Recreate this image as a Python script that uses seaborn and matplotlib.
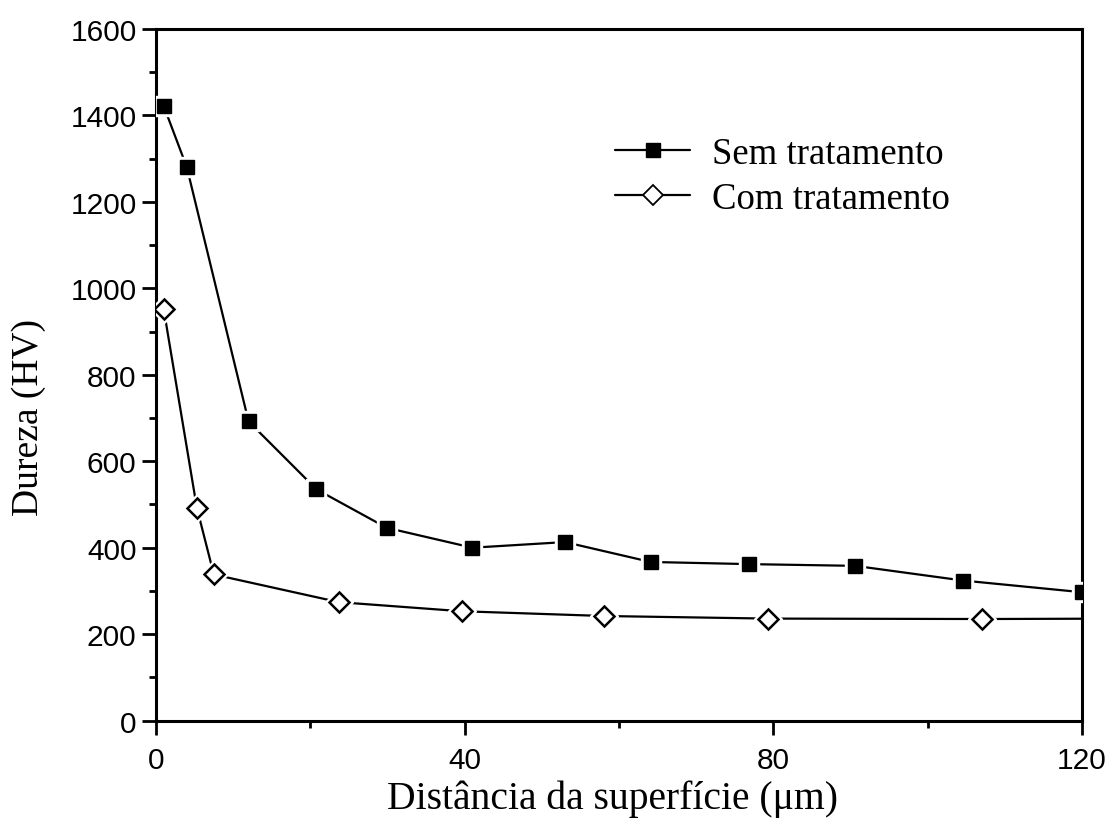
import matplotlib
matplotlib.use("Agg")
import matplotlib.pyplot as plt
from matplotlib.lines import Line2D
from matplotlib.ticker import MultipleLocator
import seaborn as sns
import pandas as pd

# Hardness profiles (HV) versus distance from the surface (µm)
dist_sem = [1.0, 4.0, 12.0, 20.8, 29.9, 41.0, 53.0, 64.1, 76.9, 90.6, 104.6, 120.0]
hv_sem = [1422, 1280, 692, 535, 446, 400, 413, 367, 362, 358, 324, 297]

dist_com = [1.0, 5.3, 7.5, 23.7, 39.6, 58.0, 79.3, 107.1, 126.0]
hv_com = [952, 492, 338, 274, 253, 242, 236, 235, 236]

label_sem = "Sem tratamento"
label_com = "Com tratamento"

df_sem = pd.DataFrame({"x": dist_sem, "y": hv_sem})
df_com = pd.DataFrame({"x": dist_com, "y": hv_com})

sns.set_style("ticks")
plt.rcParams["font.family"] = ["Liberation Sans", "DejaVu Sans"]
plt.rcParams["text.color"] = "black"
plt.rcParams["axes.labelcolor"] = "black"

fig = plt.figure(figsize=(11.07, 8.28), dpi=100)
ax = fig.add_axes([0.1409, 0.1285, 0.8365, 0.8353])

lw = 1.6
ms_sq = 10
ms_di = 10.5

# connecting lines
sns.lineplot(data=df_sem, x="x", y="y", ax=ax, color="black", lw=lw,
             sort=False, estimator=None)
sns.lineplot(data=df_com, x="x", y="y", ax=ax, color="black", lw=lw,
             sort=False, estimator=None)

# markers with a small white gap separating them from the lines
ax.plot(dist_sem, hv_sem, ls="none", marker="s", ms=ms_sq + 4,
        mfc="white", mec="white", zorder=3)
ax.plot(dist_sem, hv_sem, ls="none", marker="s", ms=ms_sq,
        mfc="black", mec="black", zorder=4)
ax.plot(dist_com, hv_com, ls="none", marker="D", ms=ms_di + 4,
        mfc="white", mec="white", zorder=3)
ax.plot(dist_com, hv_com, ls="none", marker="D", ms=ms_di,
        mfc="white", mec="black", mew=1.8, zorder=4)

ax.set_xlim(0, 120)
ax.set_ylim(0, 1600)
ax.xaxis.set_major_locator(MultipleLocator(40))
ax.xaxis.set_minor_locator(MultipleLocator(20))
ax.yaxis.set_major_locator(MultipleLocator(200))
ax.yaxis.set_minor_locator(MultipleLocator(100))

for s in ax.spines.values():
    s.set_linewidth(2.2)
    s.set_color("black")

ax.tick_params(axis="both", which="major", direction="out", length=10,
               width=2, labelsize=21.5, colors="black")
ax.tick_params(axis="x", which="major", pad=8)
ax.tick_params(axis="y", which="major", pad=4)
ax.tick_params(axis="both", which="minor", direction="out", length=5,
               width=2, colors="black")

ax.set_xlabel("Distância da superfície (μm)", family=["Liberation Serif"],
              fontsize=28.5, color="black")
ax.set_ylabel("Dureza (HV)", family=["Liberation Serif"], fontsize=27,
              color="black")
ax.xaxis.set_label_coords(0.4925, -0.085)
ax.yaxis.set_label_coords(-0.138, 0.44)
ax.yaxis.label.set_verticalalignment("center")
ax.xaxis.label.set_verticalalignment("top")

handles = [
    Line2D([], [], color="black", lw=lw, marker="s", ms=ms_sq,
           mfc="black", mec="black"),
    Line2D([], [], color="black", lw=lw, marker="D", ms=ms_di,
           mfc="white", mec="black", mew=1.3),
]
leg = ax.legend(handles, [label_sem, label_com], loc="upper left",
                bbox_to_anchor=(0.4957, 0.845), frameon=False,
                borderpad=0, borderaxespad=0,
                prop={"family": "Liberation Serif", "size": 26.5},
                handlelength=2.04, handletextpad=0.6, labelspacing=0.3,
                labelcolor="black")

fig.savefig("out.png", dpi=100)
